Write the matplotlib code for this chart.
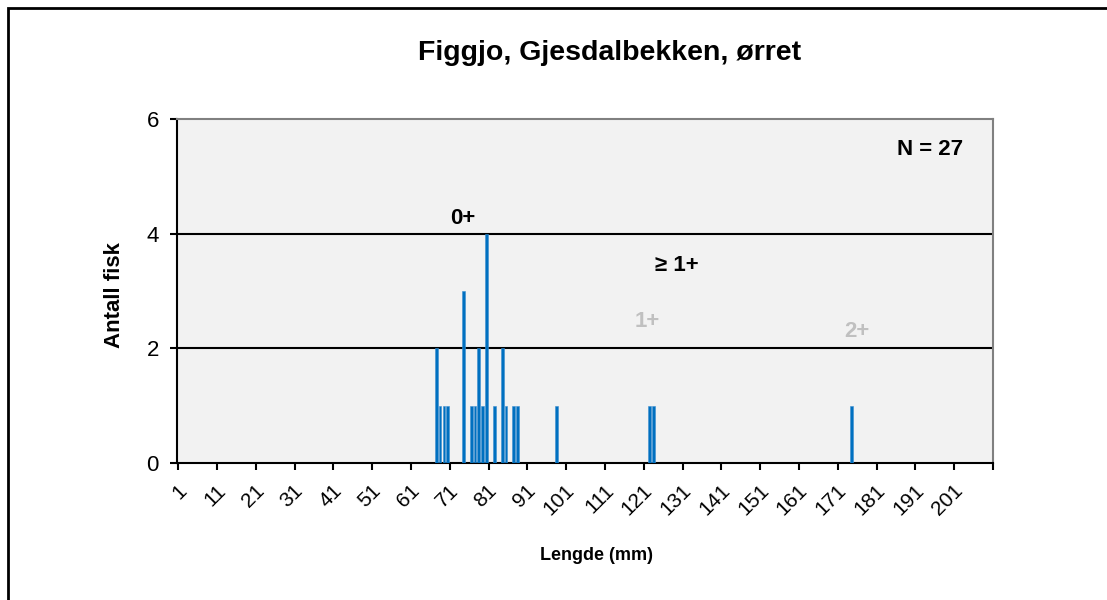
import matplotlib
matplotlib.use('Agg')
import matplotlib.pyplot as plt
from matplotlib.patches import Rectangle

plt.rcParams['font.family'] = ['Liberation Sans', 'DejaVu Sans']

# length classes (mm) and number of fish
lengths = [67, 68, 69, 70, 74, 76, 77, 78, 79, 80, 82, 84, 85, 87, 88, 98, 122, 123, 174]
counts = [2, 1, 1, 1, 3, 1, 1, 2, 1, 4, 1, 2, 1, 1, 1, 1, 1, 1, 1]
tick_labels = [str(v) for v in range(1, 202, 10)]
title = 'Figgjo, Gjesdalbekken, ørret'

fig = plt.figure(figsize=(11.07, 6.0), dpi=100)
ax = fig.add_axes([0.1599, 0.2283, 0.7371, 0.5733])
ax.set_facecolor('#F2F2F2')

ax.bar(lengths, counts, width=0.72, color='#0070C0', edgecolor='#3D8FD0', linewidth=0.4, zorder=3)

ax.set_xlim(0.5, 210.5)
ax.set_ylim(0, 6)
ax.set_yticks([0, 2, 4, 6])
for y in [2, 4]:
    ax.axhline(y, color='black', lw=1.5, zorder=2)

# ticks between categories, labels every 10th
ax.set_xticks([0.5 + 10 * i for i in range(22)])
ax.set_xticklabels([])
ax.set_xticks([int(t) - 0.8 for t in tick_labels], minor=True)
ax.set_xticklabels(tick_labels, minor=True, rotation=45, ha='right', va='top',
                   rotation_mode='anchor', fontsize=15)
ax.tick_params(axis='x', which='minor', length=0, pad=13)
ax.tick_params(axis='x', which='major', length=5, width=1.5, direction='out')
ax.tick_params(axis='y', length=5, width=1.5, direction='out', labelsize=16, pad=8)

for s in ['left', 'bottom']:
    ax.spines[s].set_color('black')
    ax.spines[s].set_linewidth(1.5)
for s in ['top', 'right']:
    ax.spines[s].set_color('#808080')
    ax.spines[s].set_linewidth(1.5)

fig.text(597 / 1107, 1 - 555 / 600, 'Lengde (mm)', ha='center', va='center',
         fontsize=13, fontweight='bold')
fig.text(115 / 1107, 1 - 295 / 600, 'Antall fisk', ha='center', va='center',
         fontsize=16, fontweight='bold', rotation=90)
fig.text(610 / 1107, 1 - 53 / 600, title, ha='center', va='center', fontsize=20.5, fontweight='bold')

ax.text(73.8, 4.27, '0+', ha='center', va='center', fontsize=16, fontweight='bold')
ax.text(129.1, 3.45, '≥ 1+', ha='center', va='center', fontsize=16, fontweight='bold')
ax.text(121.4, 2.46, '1+', ha='center', va='center', fontsize=16, fontweight='bold', color='#C0C0C0')
ax.text(175.3, 2.29, '2+', ha='center', va='center', fontsize=16, fontweight='bold', color='#C0C0C0')
ax.text(194.3, 5.46, 'N = 27', ha='center', va='center', fontsize=16, fontweight='bold')

fig.patches.append(Rectangle((8 / 1107, -0.1), 1.2, 1.1 - 8 / 600, transform=fig.transFigure,
                             fill=False, edgecolor='black', lw=2))

fig.savefig('out.png', dpi=100)
